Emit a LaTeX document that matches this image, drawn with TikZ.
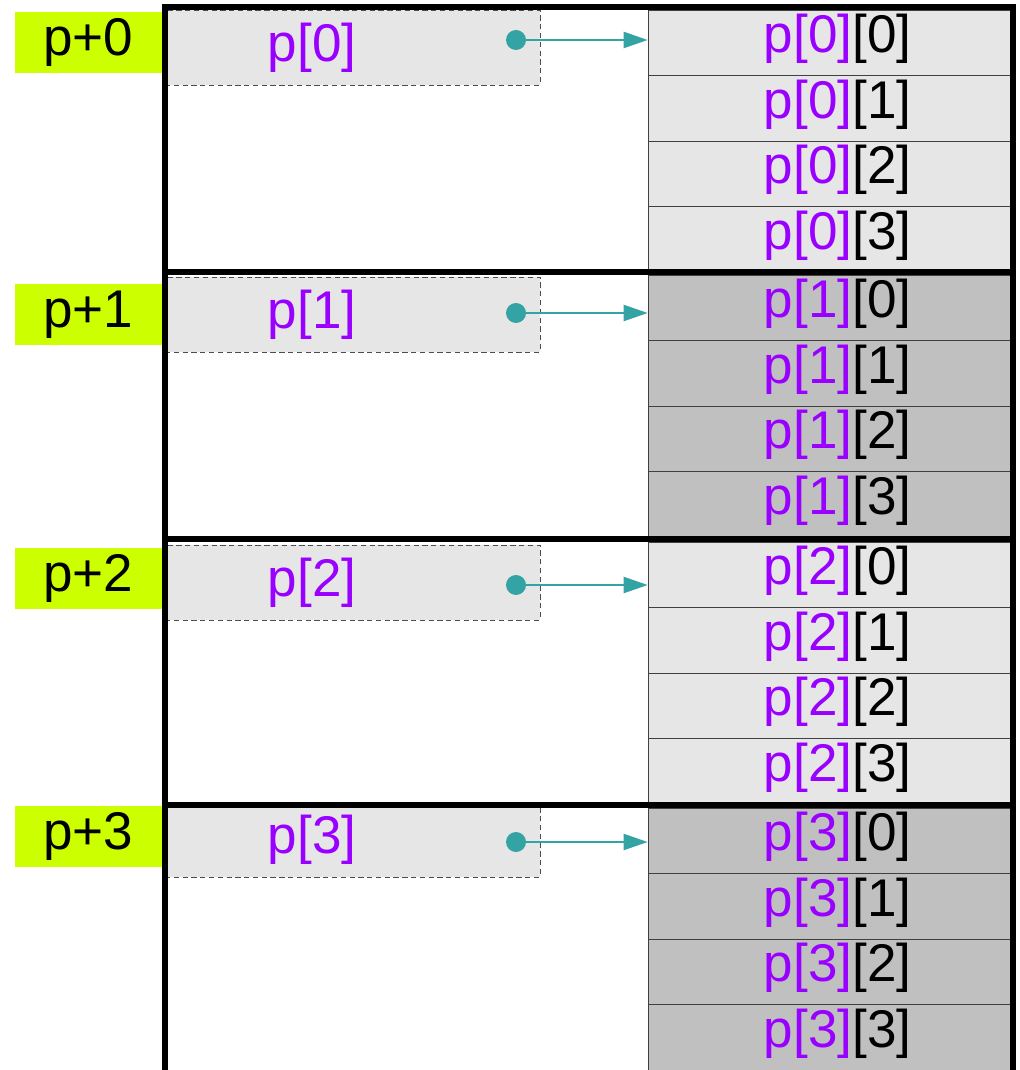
\documentclass[tikz,border=0pt]{standalone}
\usepackage{fontspec}
\setmainfont{Liberation Sans}
\usetikzlibrary{arrows.meta}
\definecolor{ptrpurple}{HTML}{9900FF}
\definecolor{linkteal}{HTML}{33A3A3}
\definecolor{addrgreen}{HTML}{CCFF00}
\definecolor{cellgray}{HTML}{E6E6E6}
\definecolor{celldark}{HTML}{C0C0C0}
\begin{document}
\begin{tikzpicture}[
    x=0.02cm, y=-0.02cm,
    font=\fontsize{30.2}{32}\selectfont,
    addr/.style={fill=addrgreen, minimum width=2.94cm, minimum height=1.22cm,
        inner sep=0pt},
    ptrbox/.style={draw=black!70, densely dashed, thin, fill=cellgray,
        minimum width=7.5cm, minimum height=1.5cm, inner sep=0pt},
    elem/.style={draw=black!75, thin, minimum width=7.28cm, minimum height=1.31cm,
        inner sep=0pt},
    elemtext/.style={xshift=0.15cm, yshift=0.07cm},
    dot/.style={circle, fill=linkteal, minimum size=0.4cm, inner sep=0pt},
    link/.style={-{Triangle[length=0.48cm, width=0.32cm]}, linkteal, line width=1.2pt},
    frame/.style={line width=0.12cm, line cap=rect}
]
\useasboundingbox (0,0) rectangle (1019,1070);

% one block per row pointer p[k]
\foreach \k/\y/\boxtop/\labtop/\doty/\shade in
    {0/7/10/12/40/cellgray, 1/272/277/284/313/celldark,
     2/539/545/548/585/cellgray, 3/805/802/806/842/celldark} {
    \node[addr] (a\k) at (88.5, \labtop+30.5) {p+\k};
    \node[ptrbox] (p\k) at (352.5, \boxtop+37.5) {};
    \node (pt\k) at (312, \boxtop+37.5) {\textcolor{ptrpurple}{p[\k]}};
    \foreach \j in {0,...,3}
        \node[elem, fill=\shade,
            label={[elemtext]center:\textcolor{ptrpurple}{p[\k]}[\j]}]
            (e\k\j) at (830, \y+3+65.5*\j+32.75) {};
    \node[dot] (d\k) at (516, \doty) {};
}

% thick outline
\draw[frame] (165,1070) -- (165,7) -- (1013,7) -- (1013,1070);
\foreach \y in {272,539,805}
    \draw[frame] (165,\y) -- (1013,\y);

% pointers
\foreach \k in {0,...,3}
    \draw[link] (d\k.center) -- (d\k -| e\k0.west);

\end{tikzpicture}
\end{document}
